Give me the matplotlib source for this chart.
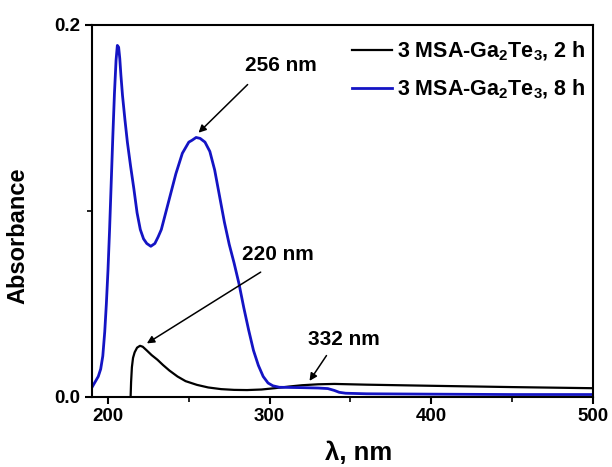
import matplotlib
matplotlib.use("Agg")
import matplotlib.pyplot as plt
from matplotlib.ticker import MultipleLocator, FormatStrFormatter

plt.rcParams["font.family"] = ["Liberation Sans", "DejaVu Sans"]
plt.rcParams["font.weight"] = "bold"
plt.rcParams["mathtext.fontset"] = "custom"
plt.rcParams["mathtext.rm"] = "Liberation Sans:bold"
plt.rcParams["mathtext.default"] = "rm"

# 3 MSA-Ga2Te3, 2 h (black)
wl_2h = [214, 214.3, 214.8, 215.5, 216.5, 218, 219.8, 221.5, 224, 227, 230.6, 234,
         238, 243, 248, 255, 262, 270, 278, 286, 295, 303, 312, 320, 330, 340,
         360, 400, 450, 500]
abs_2h = [0.0, 0.008, 0.016, 0.021, 0.024, 0.0265, 0.0275, 0.027, 0.025, 0.0225,
          0.020, 0.0172, 0.0142, 0.011, 0.0085, 0.0065, 0.0051, 0.0042, 0.0038,
          0.0037, 0.0040, 0.0047, 0.0056, 0.0063, 0.0068, 0.0070, 0.0066, 0.0060,
          0.0053, 0.0047]

# 3 MSA-Ga2Te3, 8 h (blue)
wl_8h = [190, 192, 194, 195.5, 196.8, 198, 199, 200, 201, 202, 203, 204, 205,
         205.8, 206.6, 207.3, 208, 209, 210.5, 212, 214, 216, 218, 220, 222, 224,
         226.5, 229, 231, 233, 236, 239, 242, 246, 250, 252, 254.5, 257, 260, 263,
         266, 269, 272, 275, 278, 281, 284, 287, 290, 293, 296, 299, 302, 306,
         320, 330, 336, 340, 343, 347, 360, 400, 450, 500]
abs_8h = [0.005, 0.008, 0.011, 0.015, 0.022, 0.035, 0.050, 0.068, 0.090, 0.115,
          0.140, 0.163, 0.181, 0.189, 0.188, 0.182, 0.173, 0.162, 0.149, 0.137,
          0.124, 0.112, 0.099, 0.090, 0.085, 0.0825, 0.081, 0.0825, 0.086, 0.090,
          0.100, 0.110, 0.120, 0.131, 0.137, 0.138, 0.1395, 0.139, 0.137, 0.132,
          0.122, 0.108, 0.094, 0.082, 0.072, 0.061, 0.048, 0.036, 0.025, 0.017,
          0.011, 0.0075, 0.006, 0.0052, 0.005, 0.0048, 0.0045, 0.0035, 0.0025,
          0.002, 0.0017, 0.0015, 0.0013, 0.0013]

labels = ["3 MSA-Ga$_2$Te$_3$, 2 h", "3 MSA-Ga$_2$Te$_3$, 8 h"]

# (text, text position, arrow tail, arrow head)
notes = [
    ("256 nm", (307, 0.178), (287.6, 0.169), (254.8, 0.141)),
    ("220 nm", (305.3, 0.0766), (295.9, 0.0679), (222.6, 0.028)),
    ("332 nm", (345.8, 0.0309), (336.1, 0.0235), (323.7, 0.0074)),
]

fig = plt.figure(figsize=(6.12, 4.67), dpi=100)
ax = fig.add_axes([0.150, 0.150, 0.819, 0.7966])

ax.plot(wl_2h, abs_2h, color="black", lw=1.6, label=labels[0])
ax.plot(wl_8h, abs_8h, color="#1414c4", lw=2.0, label=labels[1])

ax.set_xlim(190, 500)
ax.set_ylim(0, 0.2)
ax.xaxis.set_major_locator(MultipleLocator(100))
ax.xaxis.set_minor_locator(MultipleLocator(50))
ax.yaxis.set_major_locator(MultipleLocator(0.2))
ax.yaxis.set_minor_locator(MultipleLocator(0.1))
ax.yaxis.set_major_formatter(FormatStrFormatter("%.1f"))

for s in ax.spines.values():
    s.set_linewidth(1.5)
ax.tick_params(which="major", direction="out", length=5, width=1.5, labelsize=13.5, pad=3)
ax.tick_params(which="minor", direction="out", length=3.5, width=1.2)

ax.set_xlabel("λ, nm", fontsize=18.5, fontweight="bold", va="center")
ax.xaxis.set_label_coords(0.533, -0.152)
ax.set_ylabel("Absorbance", fontsize=17, fontweight="bold", va="center")
ax.yaxis.set_label_coords(-0.147, 0.433)

for txt, pos, tail, head in notes:
    ax.text(pos[0], pos[1], txt, fontsize=15, fontweight="bold", ha="center", va="center")
    ax.annotate("", xy=head, xytext=tail,
                arrowprops=dict(arrowstyle="-|>", color="black", lw=1.1, mutation_scale=11))

ax.legend(loc="upper right", bbox_to_anchor=(1.016, 1.0), frameon=False,
          fontsize=15.5, handlelength=1.86, handletextpad=0.23, labelspacing=0.7,
          borderaxespad=0.3)

fig.savefig("out.png", dpi=100)
